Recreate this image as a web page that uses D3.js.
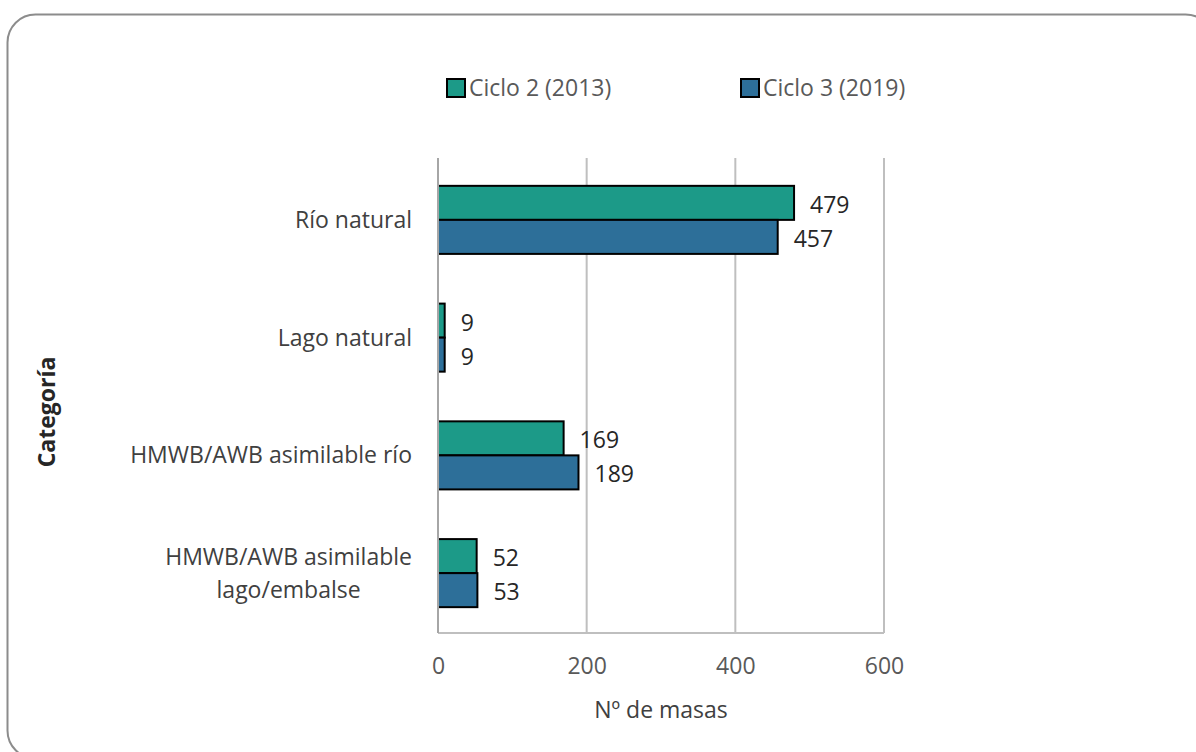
<!DOCTYPE html>
<html>
<head>
<meta charset="utf-8">
<script src="https://cdn.jsdelivr.net/npm/d3@7"></script>
<style>
  html, body { margin: 0; padding: 0; background: #ffffff; }
  svg { display: block; }
  text { font-family: "Open Sans", "Noto Sans", sans-serif; }
</style>
</head>
<body>
<svg id="chart" width="1196" height="752"></svg>
<script>
// Categories (top to bottom) and values for each planning cycle
const categories = [
  ["Río natural"],
  ["Lago natural"],
  ["HMWB/AWB asimilable río"],
  ["HMWB/AWB asimilable", "lago/embalse"]
];
const seriesNames = ["Ciclo 2 (2013)", "Ciclo 3 (2019)"];
const ciclo2 = [479, 9, 169, 52];
const ciclo3 = [457, 9, 189, 53];
const xTicks = [0, 200, 400, 600];
const colors = ["#1c9a88", "#2d6f99"];

const FS = 23;
const svg = d3.select("#chart");

// Rounded outer frame
svg.append("rect")
  .attr("x", 7.5).attr("y", 14.5)
  .attr("width", 1206).attr("height", 744)
  .attr("rx", 28).attr("ry", 28)
  .attr("fill", "#ffffff")
  .attr("stroke", "#8c8c8c")
  .attr("stroke-width", 2);

const plot = { left: 438, right: 884, top: 158, bottom: 633 };

const x = d3.scaleLinear().domain([0, 600]).range([plot.left, plot.right]);
const y = d3.scaleBand()
  .domain(d3.range(categories.length))
  .range([161, 632])
  .paddingInner(0.422)
  .paddingOuter(0.211);
const ySub = d3.scaleBand().domain([0, 1]).range([0, y.bandwidth()]);

// Vertical gridlines
svg.append("g")
  .selectAll("line")
  .data(xTicks.filter(d => d > 0))
  .join("line")
  .attr("x1", d => x(d)).attr("x2", d => x(d))
  .attr("y1", plot.top).attr("y2", plot.bottom)
  .attr("stroke", "#bfbfbf").attr("stroke-width", 2);

// Bottom baseline
svg.append("line")
  .attr("x1", plot.left).attr("x2", plot.right)
  .attr("y1", plot.bottom).attr("y2", plot.bottom)
  .attr("stroke", "#bfbfbf").attr("stroke-width", 2);

// X tick labels
const xAxis = d3.axisBottom(x).tickValues(xTicks).tickSize(0).tickPadding(25);
const gx = svg.append("g").attr("transform", `translate(0,${plot.bottom})`).call(xAxis);
gx.select(".domain").remove();
gx.selectAll("text")
  .attr("font-size", FS)
  .attr("fill", "#595959")
  .style("font-family", '"Open Sans", "Noto Sans", sans-serif');

// Bars
const rows = categories.map((c, i) => ({ i, vals: [ciclo2[i], ciclo3[i]] }));
const groups = svg.append("g").selectAll("g")
  .data(rows).join("g")
  .attr("transform", d => `translate(0,${y(d.i)})`);

groups.selectAll("rect")
  .data(d => d.vals.map((v, s) => ({ v, s })))
  .join("rect")
  .attr("x", x(0))
  .attr("y", d => ySub(d.s))
  .attr("width", d => x(d.v) - x(0))
  .attr("height", ySub.bandwidth())
  .attr("fill", d => colors[d.s])
  .attr("stroke", "#000000")
  .attr("stroke-width", 2);

// Value labels
groups.selectAll("text.val")
  .data(d => d.vals.map((v, s) => ({ v, s })))
  .join("text")
  .attr("class", "val")
  .attr("x", d => x(d.v) + 16)
  .attr("y", d => ySub(d.s) + ySub.bandwidth() / 2 + 2)
  .attr("dy", "0.35em")
  .attr("font-size", FS)
  .attr("fill", "#262626")
  .text(d => d.v);

// Left axis line
svg.append("line")
  .attr("x1", plot.left).attr("x2", plot.left)
  .attr("y1", plot.top).attr("y2", plot.bottom)
  .attr("stroke", "#a6a6a6").attr("stroke-width", 2);

// Category labels: block right-aligned to the axis, lines centred within the block
const catG = svg.append("g");
const labelRight = 412;
categories.forEach((lines, i) => {
  const cy = y(i) + y.bandwidth() / 2;
  const lh = 33;
  const nodes = lines.map((ln, k) => catG.append("text")
    .attr("y", cy + (k - (lines.length - 1) / 2) * lh)
    .attr("dy", "0.35em")
    .attr("text-anchor", "middle")
    .attr("font-size", FS)
    .attr("fill", "#404040")
    .text(ln));
  const maxW = d3.max(nodes, n => n.node().getComputedTextLength());
  nodes.forEach(n => n.attr("x", labelRight - maxW / 2));
});

// Axis titles
svg.append("text")
  .attr("x", x(300)).attr("y", 710)
  .attr("dy", "0.35em")
  .attr("text-anchor", "middle")
  .attr("font-size", FS)
  .attr("fill", "#404040")
  .text("Nº de masas");

svg.append("text")
  .attr("transform", "translate(47,412) rotate(-90)")
  .attr("dy", "0.35em")
  .attr("text-anchor", "middle")
  .attr("font-size", FS)
  .attr("font-weight", "bold")
  .attr("fill", "#262626")
  .text("Categoría");

// Legend
const legendX = [447, 741];
const legend = svg.append("g").selectAll("g")
  .data(seriesNames).join("g")
  .attr("transform", (d, i) => `translate(${legendX[i]},79)`);
legend.append("rect")
  .attr("width", 18).attr("height", 18)
  .attr("fill", (d, i) => colors[i])
  .attr("stroke", "#000000").attr("stroke-width", 2);
legend.append("text")
  .attr("x", 22).attr("y", 9)
  .attr("dy", "0.35em")
  .attr("font-size", FS)
  .attr("fill", "#595959")
  .text(d => d);
</script>
</body>
</html>
